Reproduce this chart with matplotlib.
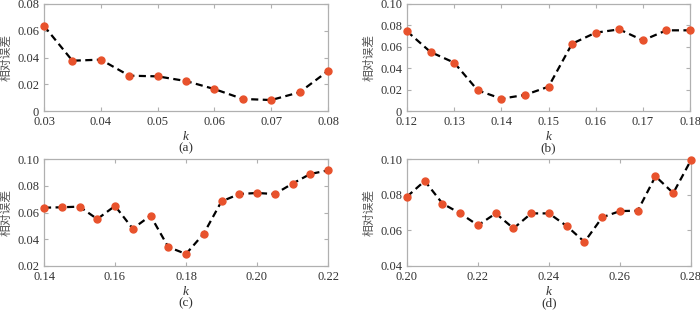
import numpy as np
import matplotlib
matplotlib.use("Agg")
import matplotlib.pyplot as plt

plt.rcParams['font.family'] = ['serif']
plt.rcParams['font.serif'] = ['Liberation Serif', 'DejaVu Serif']

k_a = [0.030, 0.035, 0.040, 0.045, 0.050, 0.055, 0.060, 0.065, 0.070, 0.075, 0.080]
err_a = [0.0636, 0.0376, 0.0384, 0.0264, 0.0259, 0.0224, 0.0164, 0.0090, 0.0082, 0.0140, 0.0299]

k_b = [0.120, 0.125, 0.130, 0.135, 0.140, 0.145, 0.150, 0.155, 0.160, 0.165, 0.170, 0.175, 0.180]
err_b = [0.0745, 0.0551, 0.0452, 0.0193, 0.0115, 0.0150, 0.0227, 0.0629, 0.0732, 0.0763, 0.0660, 0.0754, 0.0754]

k_c = [0.140, 0.145, 0.150, 0.155, 0.160, 0.165, 0.170, 0.175, 0.180, 0.185,
       0.190, 0.195, 0.200, 0.205, 0.210, 0.215, 0.220]
err_c = [0.0636, 0.0639, 0.0644, 0.0551, 0.0649, 0.0479, 0.0576, 0.0342, 0.0290, 0.0442,
         0.0683, 0.0738, 0.0746, 0.0738, 0.0816, 0.0888, 0.0915]

k_d = [0.200, 0.205, 0.210, 0.215, 0.220, 0.225, 0.230, 0.235, 0.240, 0.245,
       0.250, 0.255, 0.260, 0.265, 0.270, 0.275, 0.280]
err_d = [0.0789, 0.0877, 0.0750, 0.0695, 0.0628, 0.0695, 0.0611, 0.0695, 0.0695, 0.0624,
         0.0535, 0.0673, 0.0708, 0.0710, 0.0903, 0.0809, 0.0994]

panels = [
    dict(k=k_a, e=err_a, xlim=(0.03, 0.08), xt=[0.03, 0.04, 0.05, 0.06, 0.07, 0.08],
         xl=['0.03', '0.04', '0.05', '0.06', '0.07', '0.08'],
         ylim=(0, 0.08), yt=[0, 0.02, 0.04, 0.06, 0.08], yl=['0', '0.02', '0.04', '0.06', '0.08'],
         cap='(a)', pos=[44/700, 1-111/315, 284/700, 107/315]),
    dict(k=k_b, e=err_b, xlim=(0.12, 0.18), xt=[0.12, 0.13, 0.14, 0.15, 0.16, 0.17, 0.18],
         xl=['0.12', '0.13', '0.14', '0.15', '0.16', '0.17', '0.18'],
         ylim=(0, 0.10), yt=[0, 0.02, 0.04, 0.06, 0.08, 0.10], yl=['0', '0.02', '0.04', '0.06', '0.08', '0.10'],
         cap='(b)', pos=[407/700, 1-111/315, 283/700, 107/315]),
    dict(k=k_c, e=err_c, xlim=(0.14, 0.22), xt=[0.14, 0.16, 0.18, 0.20, 0.22],
         xl=['0.14', '0.16', '0.18', '0.20', '0.22'],
         ylim=(0.02, 0.10), yt=[0.02, 0.04, 0.06, 0.08, 0.10], yl=['0.02', '0.04', '0.06', '0.08', '0.10'],
         cap='(c)', pos=[44/700, 1-266/315, 284/700, 107/315]),
    dict(k=k_d, e=err_d, xlim=(0.20, 0.28), xt=[0.20, 0.22, 0.24, 0.26, 0.28],
         xl=['0.20', '0.22', '0.24', '0.26', '0.28'],
         ylim=(0.04, 0.10), yt=[0.04, 0.06, 0.08, 0.10], yl=['0.04', '0.06', '0.08', '0.10'],
         cap='(d)', pos=[407/700, 1-266/315, 284/700, 107/315]),
]

fig = plt.figure(figsize=(7, 3.15), dpi=100)
spine_c = '#b0b0b0'
txt_c = '#333333'
for p in panels:
    ax = fig.add_axes(p['pos'])
    ax.plot(p['k'], p['e'], linestyle=(0, (3.2, 2.0)), color='black', lw=1.6,
            marker='o', markersize=5, markerfacecolor='#e8522c', markeredgecolor='#e8522c',
            clip_on=False, zorder=3)
    ax.set_xlim(*p['xlim'])
    ax.set_ylim(*p['ylim'])
    ax.set_xticks(p['xt'])
    ax.set_xticklabels(p['xl'])
    ax.set_yticks(p['yt'])
    ax.set_yticklabels(p['yl'])
    for s in ax.spines.values():
        s.set_color(spine_c)
        s.set_linewidth(0.9)
    ax.tick_params(direction='in', top=True, right=True, length=3, width=0.8,
                   color=spine_c, labelsize=9, labelcolor=txt_c, pad=3.5)
    ax.set_xlabel('k', fontstyle='italic', fontsize=9.5, color=txt_c, labelpad=2)
    ax.set_ylabel('相对误差', family=['Noto Sans CJK SC', 'DejaVu Sans'], fontsize=8.5,
                  color='#555555', labelpad=3)
    ax.text(0.5, -0.29, p['cap'], transform=ax.transAxes, ha='center', va='top',
            fontsize=9.5, color=txt_c)

fig.savefig('out.png', dpi=100)
